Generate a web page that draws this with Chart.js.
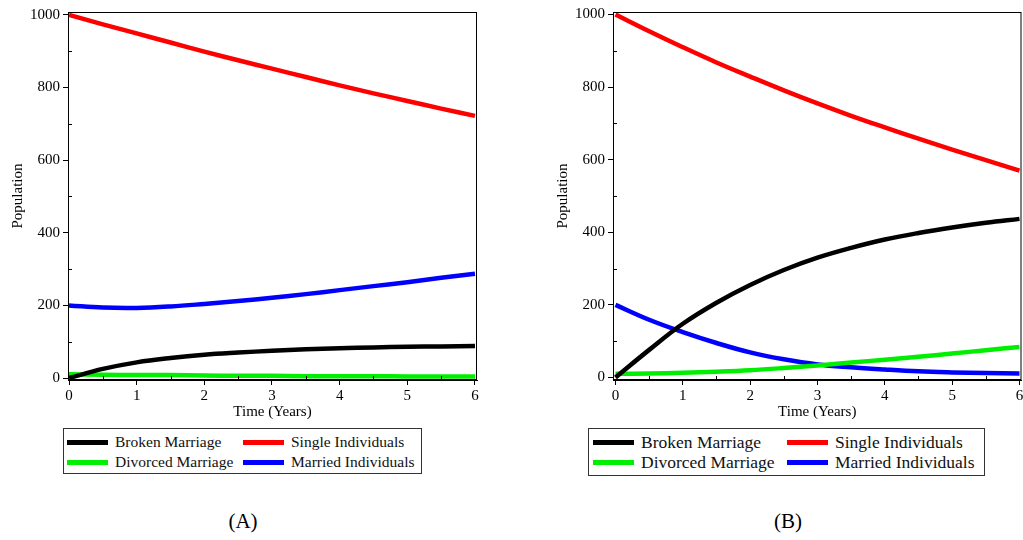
<!DOCTYPE html>
<html>
<head>
<meta charset="utf-8">
<script src="https://cdn.jsdelivr.net/npm/chart.js@4.4.1/dist/chart.umd.min.js"></script>
<style>
  html, body { margin: 0; padding: 0; background: #fff; overflow: hidden; }
  body { width: 1023px; height: 540px; position: relative; font-family: "Liberation Serif", serif; }
  canvas { position: absolute; top: 0; }
  #chartA { left: 0; }
  #chartB { left: 545px; }
  .legend {
    position: absolute; top: 428px; box-sizing: border-box;
    border: 1.5px solid #333; display: grid; grid-template-rows: 20px 20px;
    grid-auto-flow: column; padding-top: 3px; color: #111;
  }
  .legend .item { display: flex; align-items: center; white-space: nowrap; }
  .legend .swatch { display: inline-block; width: 41px; height: 5px; margin-right: 7px; }
  #legendA { left: 63px; width: 359px; height: 46px; grid-template-columns: 176px auto; padding-left: 3px; font-size: 15.5px; }
  #legendB { left: 588px; width: 397px; height: 48px; grid-template-columns: 194px auto; padding-left: 4px; font-size: 17.5px; }
  .caption { position: absolute; top: 509px; font-size: 21px; width: 60px; text-align: center; }
</style>
</head>
<body>
<canvas id="chartA" width="490" height="425"></canvas>
<canvas id="chartB" width="482" height="425"></canvas>
<div class="legend" id="legendA"></div>
<div class="legend" id="legendB"></div>
<div class="caption" style="left:213px">(A)</div>
<div class="caption" style="left:758px">(B)</div>

<script>
// time points (years) and values
const times = [0, 0.5, 1, 1.5, 2, 2.5, 3, 3.5, 4, 4.5, 5, 5.5, 6];
const seriesNames = ["Broken Marriage", "Divorced Marriage", "Single Individuals", "Married Individuals"];

// panel (A)
const brokenA   = [0, 25, 43, 55, 64, 70, 75, 79, 82, 84, 86, 87, 88];
const divorcedA = [10, 9, 8, 8, 7, 6, 6, 5, 5, 5, 4, 4, 4];
const singleA   = [1000, 974, 949, 924, 899, 875, 852, 829, 806, 784, 763, 742, 722];
const marriedA  = [200, 194, 193, 197, 204, 212, 221, 231, 242, 253, 264, 276, 287];

// panel (B)
const brokenB   = [0, 76, 148, 206, 255, 296, 330, 357, 380, 398, 413, 426, 437];
const divorcedB = [10, 11, 13, 16, 20, 26, 33, 41, 49, 57, 66, 75, 84];
const singleB   = [1000, 954, 910, 868, 829, 791, 755, 721, 689, 658, 628, 599, 570];
const marriedB  = [200, 159, 125, 95, 69, 50, 36, 28, 22, 17, 14, 12, 11];

const xTickValues = [0, 1, 2, 3, 4, 5, 6];
const yTickValues = [0, 200, 400, 600, 800, 1000];

const colors = ["#000000", "#00ee00", "#ff0000", "#0000ff"];
const font = { family: "'Liberation Serif', 'Times New Roman', serif", size: 15 };

// box round the plot plus the small inner ticks
const framePlugin = {
    id: "frame",
    afterDraw: function (chart) {
        var ctx = chart.ctx, a = chart.chartArea;
        var xs = chart.scales.x, ys = chart.scales.y;
        ctx.save();
        ctx.strokeStyle = "#000";
        ctx.lineWidth = 1;
        ctx.strokeRect(a.left + 0.5, a.top + 0.5, a.right - a.left - 1, a.bottom - a.top - 1);
        ctx.beginPath();
        for (var i = 0; i < xTickValues.length - 1; i++) {
            var px = Math.round(xs.getPixelForValue((xTickValues[i] + xTickValues[i + 1]) / 2)) + 0.5;
            ctx.moveTo(px, a.bottom);
            ctx.lineTo(px, a.bottom - 4);
        }
        for (var j = 0; j < yTickValues.length - 1; j++) {
            var py = Math.round(ys.getPixelForValue((yTickValues[j] + yTickValues[j + 1]) / 2)) + 0.5;
            ctx.moveTo(a.left, py);
            ctx.lineTo(a.left + 4, py);
        }
        ctx.stroke();
        ctx.restore();
    },
};

function makeChart(id, series, xr, yr) {
    var ctx = document.getElementById(id).getContext("2d");
    return new Chart(ctx, {
        type: "line",
        data: {
            datasets: series.map(function (vals, i) {
                return {
                    label: seriesNames[i],
                    data: times.map(function (t, k) { return { x: t, y: vals[k] }; }),
                    borderColor: colors[i],
                    borderWidth: 4.5,
                    pointRadius: 0,
                    tension: 0.4,
                    fill: false,
                };
            }),
        },
        options: {
            responsive: false,
            animation: false,
            layout: { padding: { top: 9, right: xr.padRight, bottom: 0, left: 0 } },
            plugins: { legend: { display: false }, tooltip: { enabled: false } },
            scales: {
                x: {
                    type: "linear",
                    min: xr.min,
                    max: xr.max,
                    afterBuildTicks: function (s) { s.ticks = xTickValues.map(function (v) { return { value: v }; }); },
                    afterFit: function (s) { s.height = 45; },
                    ticks: { font: font, color: "#000", padding: 2, maxRotation: 0,
                             callback: function (v) { return String(v); } },
                    grid: { drawOnChartArea: false, tickLength: 5, tickColor: "#000" },
                    border: { display: true, color: "#000", width: 1 },
                    title: { display: true, text: "Time (Years)", font: font, color: "#000", padding: { top: 0, bottom: 4 } },
                },
                y: {
                    min: yr.min,
                    max: yr.max,
                    afterBuildTicks: function (s) { s.ticks = yTickValues.map(function (v) { return { value: v }; }); },
                    afterFit: function (s) { s.width = 68; },
                    ticks: { font: font, color: "#000", padding: 3,
                             callback: function (v) { return String(v); } },
                    grid: { drawOnChartArea: false, tickLength: 5, tickColor: "#000" },
                    border: { display: true, color: "#000", width: 1 },
                    title: { display: true, text: "Population", font: font, color: "#000", padding: { top: 9, bottom: 0 } },
                },
            },
        },
        plugins: [framePlugin],
    });
}

function makeLegend(id, chart) {
    var box = document.getElementById(id);
    chart.data.datasets.forEach(function (ds) {
        var item = document.createElement("div");
        item.className = "item";
        var sw = document.createElement("span");
        sw.className = "swatch";
        sw.style.background = ds.borderColor;
        item.appendChild(sw);
        item.appendChild(document.createTextNode(ds.label));
        box.appendChild(item);
    });
}

var chartA = makeChart("chartA", [brokenA, divorcedA, singleA, marriedA],
    { min: -0.015, max: 6.03, padRight: 13 }, { min: -5.5, max: 1008 });
var chartB = makeChart("chartB", [brokenB, divorcedB, singleB, marriedB],
    { min: -0.037, max: 6.03, padRight: 5.5 }, { min: -7, max: 1007 });

makeLegend("legendA", chartA);
makeLegend("legendB", chartB);
</script>
</body>
</html>
